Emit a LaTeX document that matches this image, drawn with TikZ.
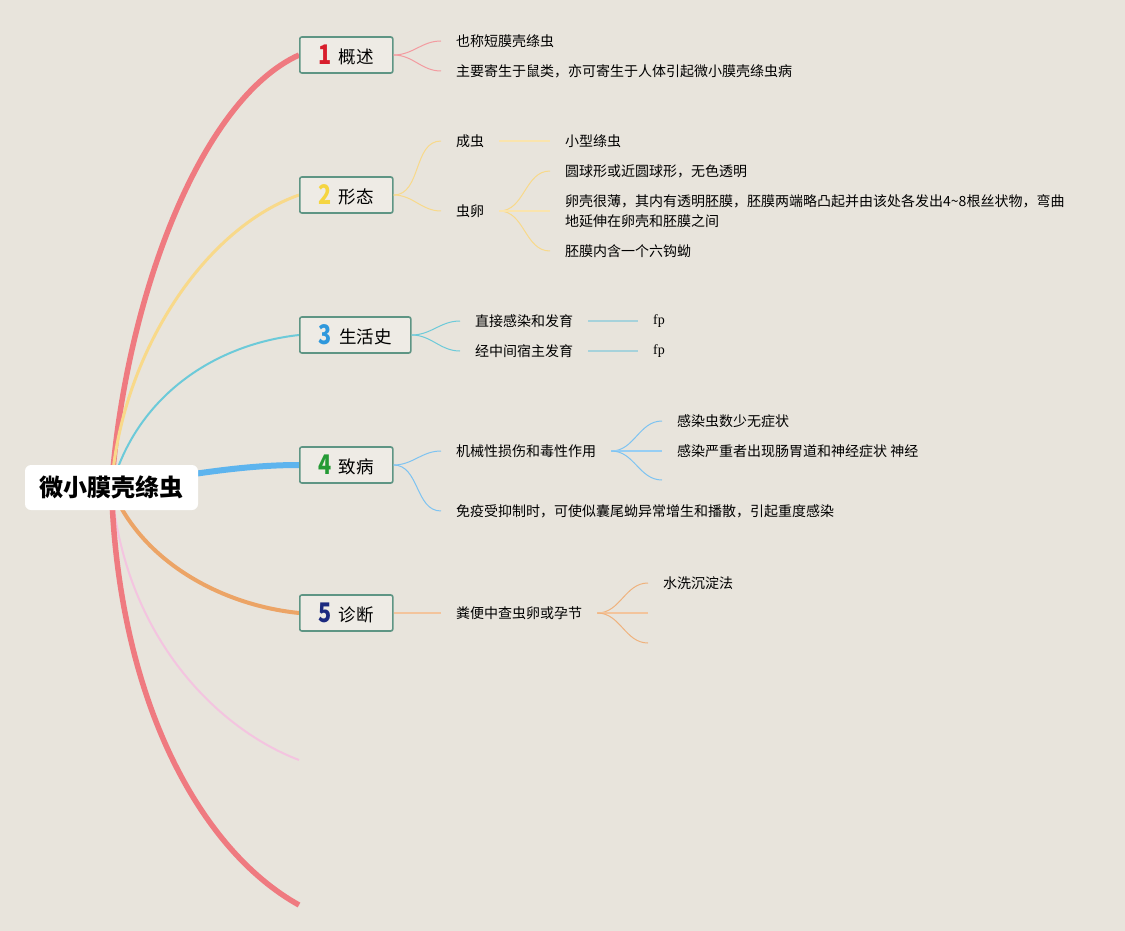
\documentclass[tikz,border=0pt]{standalone}
\usepackage{fontspec}
\setmainfont{Noto Sans CJK SC}
\newfontfamily\fpfont{Liberation Serif}
\usetikzlibrary{positioning,backgrounds}
\definecolor{paper}{HTML}{E8E4DC}
\definecolor{boxLine}{HTML}{5E9584}
\definecolor{mapRed}{HTML}{EF7A80}
\definecolor{mapYellow}{HTML}{F8D98A}
\definecolor{mapCyan}{HTML}{6CCAD9}
\definecolor{mapBlue}{HTML}{5DB4EE}
\definecolor{mapOrange}{HTML}{ECA466}
\definecolor{mapPink}{HTML}{F4C4E0}
\definecolor{barCyan}{HTML}{A6D2DB}
\definecolor{numRed}{HTML}{D81E2C}
\definecolor{numYellow}{HTML}{F5D540}
\definecolor{numBlue}{HTML}{2F98DC}
\definecolor{numGreen}{HTML}{249A35}
\definecolor{numNavy}{HTML}{1C2A80}
\newcommand{\topicnum}[2]{\textcolor{#1}{\scalebox{0.8}[1]{\fontsize{27}{27}\selectfont\bfseries #2}}\hspace{7pt}}

\begin{document}
\begin{tikzpicture}[
  x=1pt, y=-1pt,
  every node/.style={font=\fontsize{14}{20}\selectfont, text=black},
  root/.style={
    rectangle, rounded corners=6pt, fill=white,
    minimum width=173pt, minimum height=45pt,
    font=\fontsize{24}{28}\selectfont\bfseries
  },
  topic/.style={
    rectangle, rounded corners=2pt, draw=boxLine, fill=paper!75!white,
    line width=1.6pt, minimum width=93pt, minimum height=36pt,
    anchor=west, inner xsep=6pt, font=\fontsize{17.5}{20}\selectfont
  },
  leaf/.style={anchor=west, inner xsep=15pt, inner ysep=2pt, align=left},
  trunk/.style={line width=#1},
  link/.style={line width=1pt, #1},
  bar/.style={line width=1.7pt, #1},
]
\useasboundingbox (0,0) rectangle (1125,931);

% === Root and topics ===
\node[root] (root) at (111.5,487.5) {微小膜壳绦虫};

\node[topic] (overview) at (299,55) {\topicnum{numRed}{1}\raisebox{1pt}{概述}};
\node[topic] (morph) at (299,195) {\topicnum{numYellow}{2}\raisebox{1pt}{形态}};
\node[topic, minimum width=111pt] (life) at (299,335) {\topicnum{numBlue}{3}\raisebox{1pt}{生活史}};
\node[topic] (patho) at (299,465) {\topicnum{numGreen}{4}\raisebox{1pt}{致病}};
\node[topic] (diag) at (299,613) {\topicnum{numNavy}{5}\raisebox{1pt}{诊断}};

\coordinate (spareA) at (299,760);
\coordinate (spareB) at (299,905);

% === Trunk curves (behind the nodes) ===
\begin{scope}[on background layer]
  \fill[paper] (0,0) rectangle (1125,931);
  \draw[trunk=5.5pt, mapRed] (root.center) .. controls (125,300) and (200,100) .. (overview.west);
  \draw[trunk=3pt, mapYellow] (root.center) .. controls (120,360) and (200,230) .. (morph.west);
  \draw[trunk=2pt, mapCyan] (root.center) .. controls (135,400) and (210,345) .. (life.west);
  \draw[trunk=6pt, mapBlue] (root.center) .. controls (200,472) and (250,465) .. (patho.west);
  \draw[trunk=4pt, mapOrange] (root.center) .. controls (140,560) and (220,605) .. (diag.west);
  \draw[trunk=2pt, mapPink] (root.center) .. controls (125,640) and (220,730) .. (spareA);
  \draw[trunk=5.5pt, mapRed] (root.center) .. controls (118,700) and (200,850) .. (spareB);
\end{scope}

% === 1 Overview ===
\node[leaf] (ovA) at (441,41) {也称短膜壳绦虫};
\node[leaf] (ovB) at (441,71) {主要寄生于鼠类，亦可寄生于人体引起微小膜壳绦虫病};
\foreach \n in {ovA,ovB}
  \draw[link=mapRed!75] (overview.east) to[out=0,in=180] (\n.west);

% === 2 Morphology ===
\node[leaf] (adult) at (441,141) {成虫};
\node[leaf] (egg) at (441,211) {虫卵};
\node[leaf] (small) at (550,141) {小型绦虫};
\node[leaf] (eggA) at (550,171) {圆球形或近圆球形，无色透明};
\node[leaf] (eggB) at (550,211) {卵壳很薄，其内有透明胚膜，胚膜两端略凸起并由该处各发出4\textasciitilde8根丝状物，弯曲\\地延伸在卵壳和胚膜之间};
\node[leaf] (eggC) at (550,251) {胚膜内含一个六钩蚴};
\foreach \n in {adult,egg}
  \draw[link=mapYellow] (morph.east) to[out=0,in=180] (\n.west);
\draw[bar=mapYellow!70] (adult) -- (small);
\foreach \n in {eggA,eggC}
  \draw[link=mapYellow] (egg.east) to[out=0,in=180] (\n.west);
\draw[bar=mapYellow!70] (egg.east) -- (eggB.west);

% === 3 Life cycle ===
\node[leaf] (direct) at (460,321) {直接感染和发育};
\node[leaf] (host) at (460,351) {经中间宿主发育};
\node[leaf, font=\fontsize{14}{20}\fpfont] (fpA) at (638,321) {fp};
\node[leaf, font=\fontsize{14}{20}\fpfont] (fpB) at (638,351) {fp};
\foreach \n in {direct,host}
  \draw[link=mapCyan] (life.east) to[out=0,in=180] (\n.west);
\draw[bar=barCyan] (direct) -- (fpA);
\draw[bar=barCyan] (host) -- (fpB);

% === 4 Pathogenesis ===
\node[leaf] (mech) at (441,451) {机械性损伤和毒性作用};
\node[leaf] (immune) at (441,511) {免疫受抑制时，可使似囊尾蚴异常增生和播散，引起重度感染};
\node[leaf] (few) at (662,421) {感染虫数少无症状};
\node[leaf] (severe) at (662,451) {感染严重者出现肠胃道和神经症状 神经};
\coordinate (mechEnd) at (662,480);
\foreach \n in {mech,immune}
  \draw[link=mapBlue!80] (patho.east) to[out=0,in=180] (\n.west);
\draw[link=mapBlue!80] (mech.east) to[out=0,in=180] (few.west);
\draw[bar=mapBlue!65] (mech.east) -- (severe.west);
\draw[link=mapBlue!80] (mech.east) to[out=0,in=180] (mechEnd);

% === 5 Diagnosis ===
\node[leaf] (stool) at (441,613) {粪便中查虫卵或孕节};
\node[leaf] (wash) at (648,583) {水洗沉淀法};
\coordinate (stoolMid) at (648,613);
\coordinate (stoolEnd) at (648,643);
\draw[bar=mapOrange!65] (diag.east) -- (stool.west);
\draw[link=mapOrange!85] (stool.east) to[out=0,in=180] (wash.west);
\draw[bar=mapOrange!65] (stool.east) -- (stoolMid);
\draw[link=mapOrange!85] (stool.east) to[out=0,in=180] (stoolEnd);

\end{tikzpicture}
\end{document}
